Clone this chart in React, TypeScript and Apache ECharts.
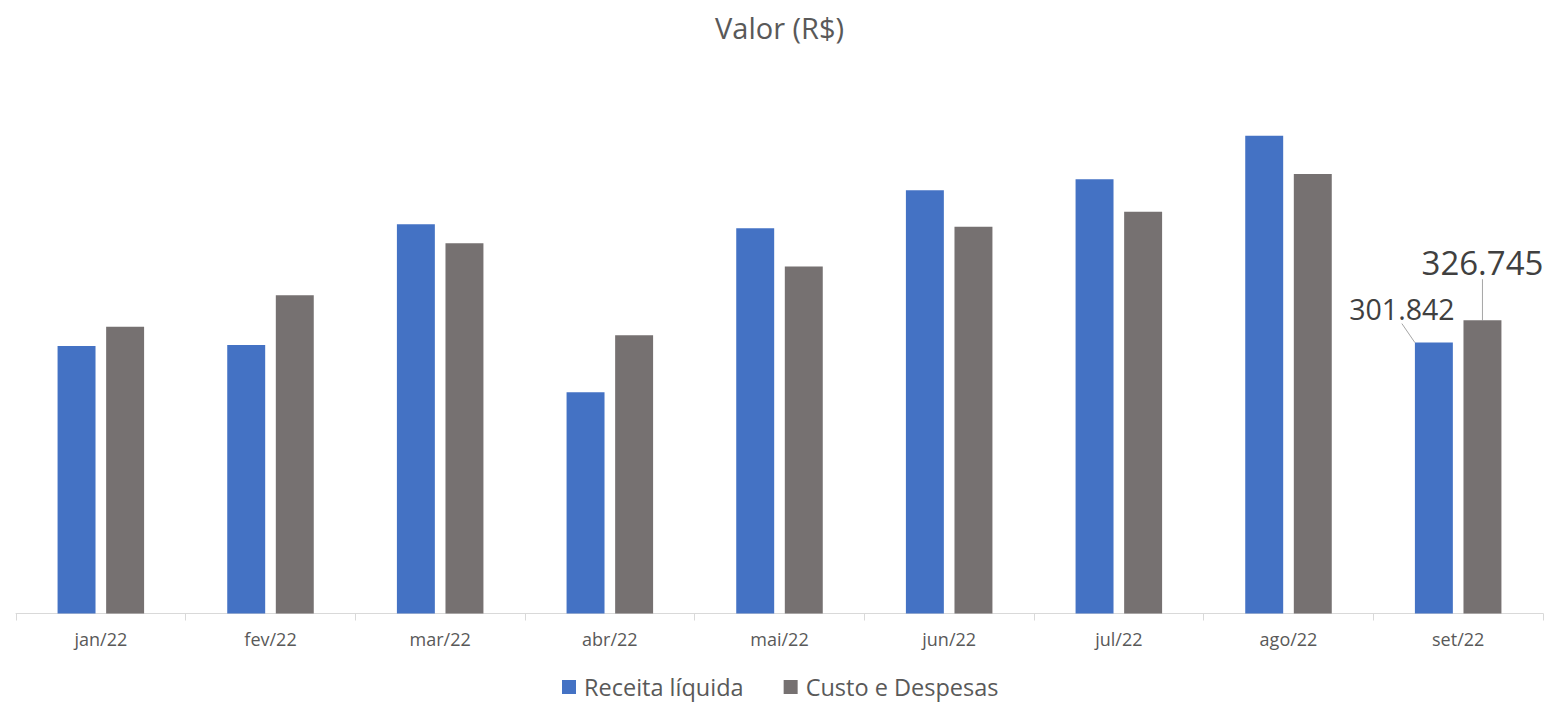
import React, { useEffect, useRef } from "react";
import * as echarts from "echarts";

const categories = ["jan/22", "fev/22", "mar/22", "abr/22", "mai/22", "jun/22", "jul/22", "ago/22", "set/22"];
const receitaLiquida = [298100, 299200, 433800, 246500, 429300, 471700, 483900, 532200, 301842];
const custoDespesas = [319600, 354600, 412600, 310100, 386500, 430800, 447500, 489800, 326745];
const labeledIndex = 8;

const fmt = (v: number) => {
  const s = Math.round(v).toString();
  return s.replace(/\B(?=(\d{3})+(?!\d))/g, ".");
};

const FONT = "'Open Sans', sans-serif";

export default function App() {
  const ref = useRef<HTMLDivElement>(null);
  useEffect(() => {
    if (!ref.current) return;
    const chart = echarts.init(ref.current, undefined, { renderer: "svg" });
    const mkData = (arr: number[], fontSize: number) =>
      arr.map((v, i) =>
        i === labeledIndex
          ? {
              value: v,
              label: {
                show: true,
                position: "top",
                distance: 0,
                fontSize,
                color: "#404040",
                fontFamily: FONT,
                formatter: (p: any) => fmt(p.value),
              },
              labelLine: { show: true, lineStyle: { color: "#A6A6A6", width: 1 } },
            }
          : v
      );
    chart.setOption({
      animation: false,
      backgroundColor: "#ffffff",
      title: {
        text: "Valor (R$)",
        left: 710,
        top: 8,
        textStyle: { fontSize: 29, fontWeight: "normal", color: "#595959", fontFamily: FONT },
      },
      legend: {
        top: 670,
        left: 557,
        icon: "rect",
        itemWidth: 14,
        itemHeight: 14,
        itemGap: 40,
        textStyle: { fontSize: 23.5, color: "#595959", fontFamily: FONT, padding: [0, 0, 0, 3] },
        data: ["Receita líquida", "Custo e Despesas"],
      },
      grid: { left: 16, right: 6, top: 75, bottom: 90.5, containLabel: false },
      xAxis: {
        type: "category",
        data: categories,
        axisLine: { lineStyle: { color: "#D9D9D9", width: 1 } },
        axisTick: { show: true, length: 7, lineStyle: { color: "#D9D9D9" } },
        axisLabel: { fontSize: 18, color: "#595959", fontFamily: FONT, margin: 16 },
      },
      yAxis: {
        type: "value",
        min: 0,
        max: 600000,
        show: false,
        splitLine: { show: false },
      },
      series: [
        {
          name: "Receita líquida",
          type: "bar",
          data: mkData(receitaLiquida, 28.5),
          itemStyle: { color: "#4472C4" },
          barGap: "28%",
          barCategoryGap: "49%",
          labelLayout: { dx: -32, dy: -19 },
        },
        {
          name: "Custo e Despesas",
          type: "bar",
          data: mkData(custoDespesas, 33),
          itemStyle: { color: "#767171" },
          barGap: "28%",
          barCategoryGap: "49%",
          labelLayout: { dx: 0, dy: -41 },
        },
      ],
    });
    return () => chart.dispose();
  }, []);
  return (
    <div
      ref={ref}
      style={{ position: "absolute", left: 0, top: 0, width: 1549, height: 704 }}
    />
  );
}
